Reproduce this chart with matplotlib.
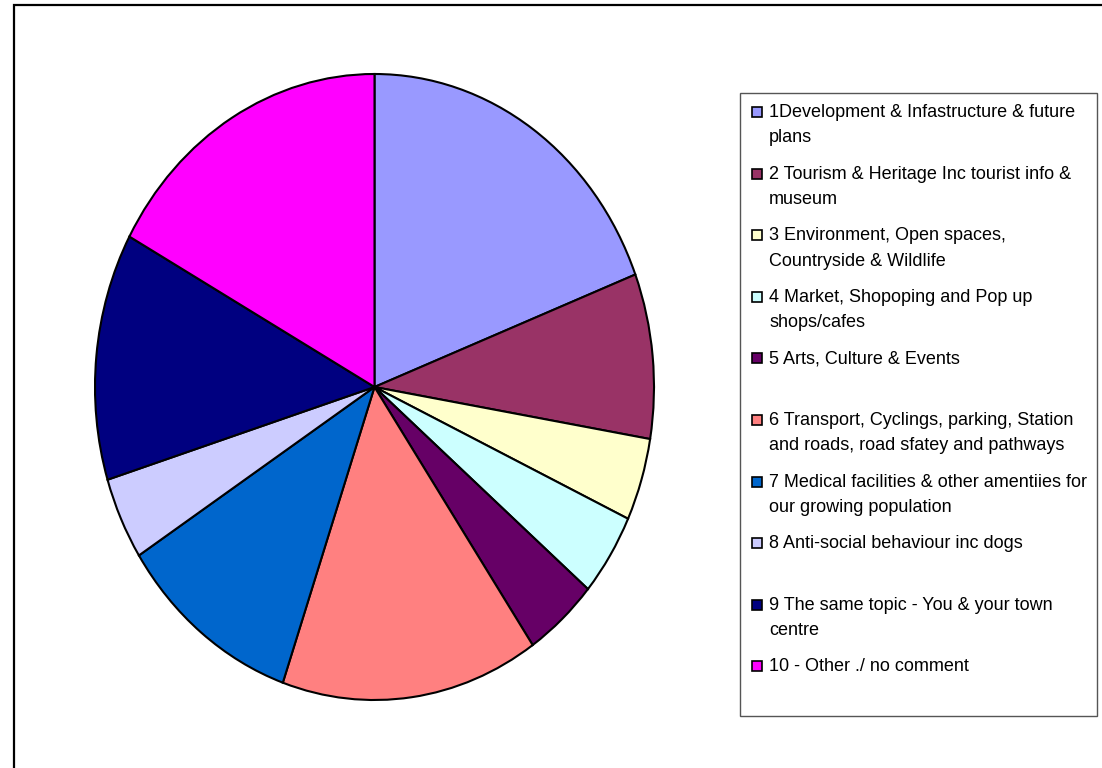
import matplotlib
matplotlib.use('Agg')
import matplotlib.pyplot as plt
from matplotlib.patches import Rectangle

# topic counts, in legend order
labels = [
    '1Development & Infastructure & future\nplans',
    '2 Tourism & Heritage Inc tourist info &\nmuseum',
    '3 Environment, Open spaces,\nCountryside & Wildlife',
    '4 Market, Shopoping and Pop up\nshops/cafes',
    '5 Arts, Culture & Events',
    '6 Transport, Cyclings, parking, Station\nand roads, road sfatey and pathways',
    '7 Medical facilities & other amentiies for\nour growing population',
    '8 Anti-social behaviour inc dogs',
    '9 The same topic - You & your town\ncentre',
    '10 - Other ./ no comment',
]
counts = [9, 4, 2, 2, 2, 7, 5, 2, 6, 8]
colors = ['#9999FF', '#993366', '#FFFFCC', '#CCFFFF', '#660066',
          '#FF8080', '#0066CC', '#CCCCFF', '#000080', '#FF00FF']

W, H = 1102, 768
fig = plt.figure(figsize=(W / 100, H / 100), dpi=100)

# outer chart frame (runs off the right and bottom)
fig.patches.append(Rectangle((13.5 / W, -0.1), 1.2, 1.1 - 5.5 / H,
                             transform=fig.transFigure, fill=False,
                             edgecolor='black', linewidth=1.6))

# pie is slightly taller than wide
cx, cy, rx, ry = 374.5, 387, 279.5, 313
ax = fig.add_axes([(cx - rx) / W, (H - cy - ry) / H, 2 * rx / W, 2 * ry / H])
wedges, _ = ax.pie(counts, colors=colors, startangle=90, counterclock=False,
                   wedgeprops=dict(edgecolor='black', linewidth=1.5))
for w in wedges:
    w.set_clip_on(False)
ax.set_aspect('auto')
ax.set_xlim(-1, 1)
ax.set_ylim(-1, 1)
ax.axis('off')

# legend box drawn by hand
lx0, ly0, lx1, ly1 = 740, 93, 1097, 716
fig.patches.append(Rectangle((lx0 / W, 1 - ly1 / H), (lx1 - lx0) / W,
                             (ly1 - ly0) / H, transform=fig.transFigure,
                             facecolor='white', edgecolor='#555555',
                             linewidth=1.0))
y0, step = 112, 61.6
for i, (lab, c) in enumerate(zip(labels, colors)):
    y = y0 + i * step
    fig.patches.append(Rectangle((752 / W, 1 - (y + 5) / H), 10 / W, 10 / H,
                                 transform=fig.transFigure, facecolor=c,
                                 edgecolor='black', linewidth=1.2))
    fig.text(769 / W, 1 - (y - 8) / H, lab, fontsize=13,
             family='Liberation Sans', va='top', ha='left',
             linespacing=1.65)

fig.savefig('out.png', dpi=100)
